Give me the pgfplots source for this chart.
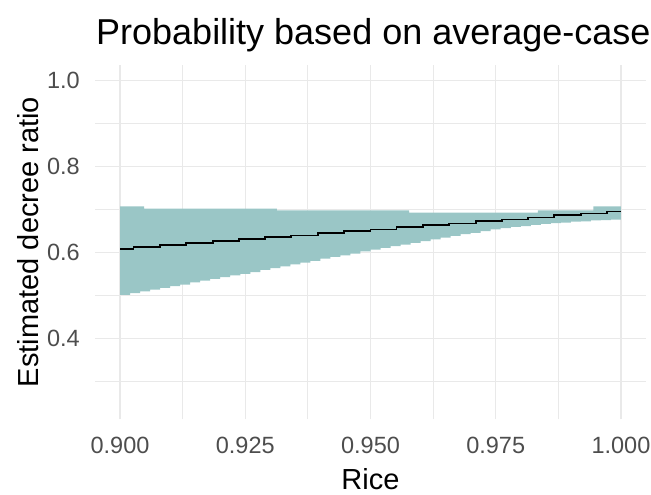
\documentclass[border=0pt]{standalone}
\usepackage{pgfplots}
\pgfplotsset{compat=1.18}
\usepackage{fontspec}
\setmainfont{Liberation Sans}
\definecolor{ribbon}{RGB}{154,198,198}
\definecolor{gridc}{RGB}{233,233,233}
\definecolor{ticklab}{RGB}{77,77,77}
\begin{document}
\begin{tikzpicture}
\begin{axis}[
  at={(0pt,0pt)}, anchor=south west,
  scale only axis, width=551pt, height=354.7pt,
  xmin=0.895, xmax=1.005, ymin=0.2125, ymax=1.0375,
  xtick={0.9,0.925,0.95,0.975,1.0},
  xticklabels={0.900,0.925,0.950,0.975,1.000},
  minor xtick={0.9125,0.9375,0.9625,0.9875},
  ytick={0.4,0.6,0.8,1.0},
  yticklabels={0.4,0.6,0.8,1.0},
  minor ytick={0.3,0.5,0.7,0.9},
  grid=both,
  major grid style={gridc, line width=1.5pt},
  minor grid style={gridc, line width=0.8pt},
  axis line style={draw=none},
  major tick length=0pt, minor tick length=0pt,
  tick style={draw=none},
  /pgf/number format/assume math mode=true,
  xticklabel style={font=\fontsize{23.5}{28}\selectfont, text=ticklab, anchor=north, inner sep=0pt, yshift=-17.7pt},
  yticklabel style={font=\fontsize{23.5}{28}\selectfont, text=ticklab, anchor=east, inner sep=0pt, xshift=-15pt},
  clip=false,
]
% ribbon: upper staircase forward, lower staircase backward
\addplot[fill=ribbon, draw=none, forget plot] coordinates {
(0.900,0.7077) (0.9048,0.7077) (0.9048,0.7023) (0.9313,0.7023) (0.9313,0.6984) (0.9577,0.6984)
(0.9577,0.6935) (0.9834,0.6935) (0.9834,0.6985) (0.9945,0.6985) (0.9945,0.7077) (1.000,0.7077)
(1.000,0.677)(0.998,0.677)
(0.998,0.676)(0.996,0.676)
(0.996,0.675)(0.994,0.675)
(0.994,0.673)(0.992,0.673)
(0.992,0.672)(0.990,0.672)
(0.990,0.670)(0.988,0.670)
(0.988,0.669)(0.986,0.669)
(0.986,0.667)(0.984,0.667)
(0.984,0.665)(0.982,0.665)
(0.982,0.662)(0.980,0.662)
(0.980,0.660)(0.978,0.660)
(0.978,0.657)(0.976,0.657)
(0.976,0.654)(0.974,0.654)
(0.974,0.650)(0.972,0.650)
(0.972,0.646)(0.970,0.646)
(0.970,0.643)(0.968,0.643)
(0.968,0.639)(0.966,0.639)
(0.966,0.635)(0.964,0.635)
(0.964,0.631)(0.962,0.631)
(0.962,0.627)(0.960,0.627)
(0.960,0.623)(0.958,0.623)
(0.958,0.619)(0.956,0.619)
(0.956,0.615)(0.954,0.615)
(0.954,0.611)(0.952,0.611)
(0.952,0.607)(0.950,0.607)
(0.950,0.603)(0.948,0.603)
(0.948,0.598)(0.946,0.598)
(0.946,0.594)(0.944,0.594)
(0.944,0.590)(0.942,0.590)
(0.942,0.586)(0.940,0.586)
(0.940,0.581)(0.938,0.581)
(0.938,0.577)(0.936,0.577)
(0.936,0.573)(0.934,0.573)
(0.934,0.568)(0.932,0.568)
(0.932,0.564)(0.930,0.564)
(0.930,0.560)(0.928,0.560)
(0.928,0.555)(0.926,0.555)
(0.926,0.551)(0.924,0.551)
(0.924,0.547)(0.922,0.547)
(0.922,0.543)(0.920,0.543)
(0.920,0.539)(0.918,0.539)
(0.918,0.535)(0.916,0.535)
(0.916,0.531)(0.914,0.531)
(0.914,0.526)(0.912,0.526)
(0.912,0.522)(0.910,0.522)
(0.910,0.518)(0.908,0.518)
(0.908,0.514)(0.906,0.514)
(0.906,0.510)(0.904,0.510)
(0.904,0.506)(0.902,0.506)
(0.902,0.502)(0.900,0.502)
} -- cycle;
\addplot[black, line width=1.8pt, const plot, forget plot] coordinates {
(0.9000,0.608) (0.9027,0.613) (0.9080,0.617) (0.9132,0.622) (0.9185,0.627)
(0.9237,0.631) (0.9290,0.636) (0.9342,0.640) (0.9395,0.645) (0.9447,0.650)
(0.9500,0.654) (0.9552,0.659) (0.9605,0.664) (0.9657,0.668) (0.9710,0.673)
(0.9762,0.677) (0.9815,0.682) (0.9867,0.687) (0.9920,0.691) (0.9972,0.696)
(1.0000,0.696)
};
\node[anchor=base west, inner sep=0pt, font=\fontsize{36}{40}\selectfont] at (axis description cs:0.0018,1.058) {Probability based on average-case};
\node[anchor=base, inner sep=0pt, font=\fontsize{29}{33}\selectfont] at (axis description cs:0.5,-0.1993) {Rice};
\node[anchor=base, rotate=90, inner sep=0pt, font=\fontsize{29}{33}\selectfont] at (axis description cs:-0.1034,0.5) {Estimated decree ratio};
\end{axis}
\pgfresetboundingbox
\useasboundingbox (-95pt,-75.7pt) rectangle (556pt,419.3pt);
\end{tikzpicture}
\end{document}
